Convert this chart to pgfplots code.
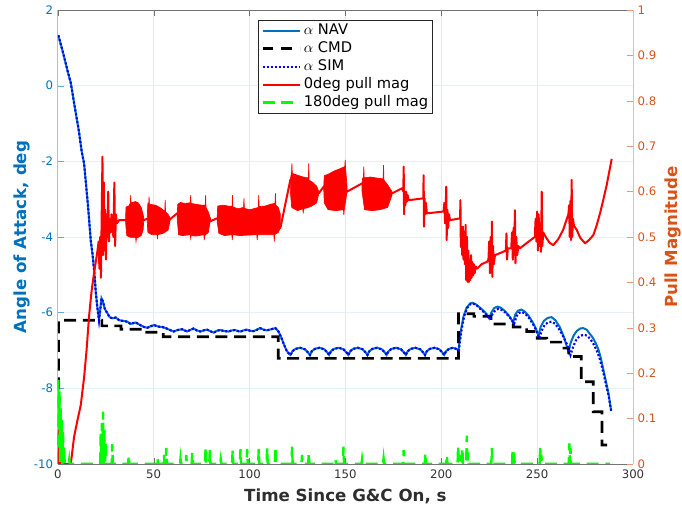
\documentclass[border=0pt]{standalone}
\usepackage{fontspec}
\setmainfont{DejaVu Sans}
\usepackage{pgfplots}
\pgfplotsset{compat=1.18}
\definecolor{mblue}{HTML}{0072BD}
\definecolor{morange}{HTML}{D95319}
\definecolor{mgreen}{rgb}{0,1,0}

\begin{document}
\begin{tikzpicture}
\useasboundingbox (-43.35pt,-32.25pt) rectangle (468.25pt,348pt);
% ---------------- left axis: angle of attack ----------------
\begin{axis}[
  at={(0,0)}, anchor=south west,
  scale only axis, width=431.5pt, height=340.5pt,
  xmin=0, xmax=300, ymin=-10, ymax=2,
  axis x line*=box, axis y line*=left,
  xtick={0,50,100,150,200,250,300},
  xticklabels={0,50,100,150,200,250,300},
  ytick={-10,-8,-6,-4,-2,0,2},
  yticklabels={-10,-8,-6,-4,-2,0,2},
  tick align=inside, major tick length=4.3pt,
  x axis line style={draw=black!55, line width=0.5pt},
  y axis line style={draw=mblue!40, line width=0.5pt},
  xtick style={black!55}, ytick style={mblue!60},
  x tick label style={font=\fontsize{8.8}{10}\selectfont, text=black!80, yshift=-0.8pt},
  y tick label style={font=\fontsize{8.8}{10}\selectfont, text=mblue},
  grid=major,
  x grid style={black!9, line width=0.5pt},
  y grid style={mblue!10, line width=0.5pt},
  every axis x label/.style={at={(axis description cs:0.5,-0.083)}, anchor=base},
  every axis y label/.style={at={(axis description cs:-0.0536,0.5)}, rotate=90, anchor=base},
  xlabel={\fontsize{12.5}{14}\selectfont\bfseries Time Since G\&C On, s},
  ylabel={\fontsize{12.5}{14}\selectfont\bfseries Angle of Attack, deg},
  ylabel style={text=mblue},
  xlabel style={text=black!82},
]
% alpha NAV
\addplot[mblue, line width=1.5pt] coordinates {
(0.3,1.33) (2.6,0.9) (5.2,0.37) (6.8,0.07) (8.8,-0.55) (11,-1.2) (12.5,-1.75) (13.7,-2.05)
(15.8,-3.2) (17.2,-4.1) (18.1,-4.45) (19,-4.9) (19.8,-5.45) (20.6,-5.85) (21.5,-6.2)
(22.2,-5.9) (22.8,-5.62) (23.5,-5.7) (24.5,-5.9) (25.9,-6.02) (27,-6.12) (28.5,-6.15)
(30.2,-6.13) (32,-6.2) (34,-6.22) (36.3,-6.24) (38,-6.3) (40.6,-6.26) (43,-6.33) (45,-6.38)
(46.7,-6.4) (48.5,-6.36) (50.2,-6.33) (52.5,-6.37) (54.5,-6.38) (56.3,-6.41) (58.5,-6.46)
(60.4,-6.5) (62.5,-6.46) (64.8,-6.44) (67.4,-6.5) (69,-6.46) (70.8,-6.42) (72.5,-6.47)
(74.3,-6.5) (76,-6.47) (77.8,-6.45) (79.5,-6.49) (81.3,-6.53) (83,-6.48) (84.7,-6.46)
(87,-6.49) (89.1,-6.5) (90.8,-6.47) (92.5,-6.46) (94,-6.49) (95.2,-6.5) (97,-6.47)
(98.6,-6.45) (100.3,-6.48) (102,-6.49) (104,-6.45) (105.5,-6.41) (107.3,-6.45) (109,-6.47)
(111.3,-6.44) (113.5,-6.41) (115.1,-6.5) (116.5,-6.65) (118,-6.85) (119.3,-7.0) (120.3,-7.07)
(121.4,-7.12) (122.4,-7.02) (123.9,-6.96) (126.4,-6.93) (128.9,-6.97) (130.4,-7.05)
(131.5,-7.12) (132.5,-7.02) (134,-6.96) (136.5,-6.93) (139,-6.97) (140.5,-7.05)
(141.5,-7.12) (142.5,-7.02) (144,-6.96) (146.5,-6.93) (149,-6.97) (150.5,-7.05)
(151.5,-7.12) (152.5,-7.02) (154,-6.96) (156.5,-6.93) (159,-6.97) (160.5,-7.05)
(161.5,-7.12) (162.5,-7.02) (164,-6.96) (166.5,-6.93) (169,-6.97) (170.5,-7.05)
(171.5,-7.12) (172.5,-7.02) (174,-6.96) (176.5,-6.93) (179,-6.97) (180.5,-7.05)
(181.5,-7.12) (182.5,-7.02) (184,-6.96) (186.5,-6.93) (189,-6.97) (190.5,-7.05)
(191.5,-7.12) (192.5,-7.02) (194,-6.96) (196.5,-6.93) (199,-6.97) (200.5,-7.05)
(201.5,-7.12) (202.5,-7.02) (204,-6.96) (206,-6.93) (207.8,-6.96) (209,-7.0)
(209.5,-6.75) (210.3,-6.45) (211.6,-6.1) (213.2,-5.87) (215,-5.76) (216.2,-5.74) (218,-5.78)
(220,-5.86) (222,-5.95) (224,-6.06) (225,-6.15) (226.2,-5.99) (227.6,-5.88) (229.3,-5.84)
(231,-5.87) (233,-5.95) (235.3,-6.08) (237.5,-6.26) (238.6,-6.05) (240,-5.95) (241.8,-5.92)
(243.5,-5.97) (245.5,-6.08) (247.5,-6.24) (249.3,-6.42) (250.7,-6.62) (251.8,-6.38)
(253.5,-6.22) (255.5,-6.14) (257.5,-6.12) (259.5,-6.2) (261.8,-6.38) (264,-6.65) (266.3,-7.03)
(267.6,-6.78) (269.2,-6.59) (270.8,-6.48) (272.5,-6.42) (274,-6.41) (275.8,-6.45) (277.3,-6.55)
(279,-6.66) (280.5,-6.8) (282,-6.98) (283.3,-7.22) (284.5,-7.5) (285.8,-7.8) (287.2,-8.13)
(288.6,-8.6)
};
% alpha CMD
\addplot[black, line width=2pt, dash pattern=on 9pt off 5pt] coordinates {
(0.3,-10) (0.4,-6.2) (23,-6.2) (23,-6.35) (33,-6.35) (33,-6.44) (43,-6.44) (43,-6.52)
(55,-6.52) (55,-6.64) (115,-6.64) (115,-7.21) (209,-7.21) (209,-6.03) (217,-6.03) (217,-6.1)
(226,-6.1) (226,-6.3) (237.5,-6.3) (237.5,-6.38) (244.5,-6.38) (244.5,-6.5) (250,-6.5)
(250,-6.68) (255,-6.68) (255,-6.78) (264,-6.78) (264,-6.94) (266.5,-6.94) (266.5,-7.16)
(273,-7.16) (273,-7.83) (279.3,-7.83) (279.3,-8.62) (283.8,-8.62) (283.8,-9.5) (286.5,-9.5)
};
% alpha SIM
\addplot[blue, line width=1.6pt, dash pattern=on 1.5pt off 1.5pt] coordinates {
(0.3,1.33) (2.6,0.9) (5.2,0.37) (6.8,0.07) (8.8,-0.55) (11,-1.2) (12.5,-1.75) (13.7,-2.05)
(15.8,-3.2) (17.2,-4.1) (18.1,-4.45) (19,-4.9) (19.8,-5.45) (20.6,-5.85) (21.5,-6.2)
(22.2,-5.9) (22.8,-5.62) (23.5,-5.7) (24.5,-5.9) (25.9,-6.02) (27,-6.12) (28.5,-6.15)
(30.2,-6.13) (32,-6.2) (34,-6.22) (36.3,-6.24) (38,-6.3) (40.6,-6.26) (43,-6.33) (45,-6.38)
(46.7,-6.4) (48.5,-6.36) (50.2,-6.33) (52.5,-6.37) (54.5,-6.38) (56.3,-6.41) (58.5,-6.46)
(60.4,-6.5) (62.5,-6.46) (64.8,-6.44) (67.4,-6.5) (69,-6.46) (70.8,-6.42) (72.5,-6.47)
(74.3,-6.5) (76,-6.47) (77.8,-6.45) (79.5,-6.49) (81.3,-6.53) (83,-6.48) (84.7,-6.46)
(87,-6.49) (89.1,-6.5) (90.8,-6.47) (92.5,-6.46) (94,-6.49) (95.2,-6.5) (97,-6.47)
(98.6,-6.45) (100.3,-6.48) (102,-6.49) (104,-6.45) (105.5,-6.41) (107.3,-6.45) (109,-6.47)
(111.3,-6.44) (113.5,-6.41) (115.1,-6.5) (116.5,-6.65) (118,-6.85) (119.3,-7.0) (120.3,-7.07)
(121.4,-7.12) (122.4,-7.02) (123.9,-6.96) (126.4,-6.93) (128.9,-6.97) (130.4,-7.05)
(131.5,-7.12) (132.5,-7.02) (134,-6.96) (136.5,-6.93) (139,-6.97) (140.5,-7.05)
(141.5,-7.12) (142.5,-7.02) (144,-6.96) (146.5,-6.93) (149,-6.97) (150.5,-7.05)
(151.5,-7.12) (152.5,-7.02) (154,-6.96) (156.5,-6.93) (159,-6.97) (160.5,-7.05)
(161.5,-7.12) (162.5,-7.02) (164,-6.96) (166.5,-6.93) (169,-6.97) (170.5,-7.05)
(171.5,-7.12) (172.5,-7.02) (174,-6.96) (176.5,-6.93) (179,-6.97) (180.5,-7.05)
(181.5,-7.12) (182.5,-7.02) (184,-6.96) (186.5,-6.93) (189,-6.97) (190.5,-7.05)
(191.5,-7.12) (192.5,-7.02) (194,-6.96) (196.5,-6.93) (199,-6.97) (200.5,-7.05)
(201.5,-7.12) (202.5,-7.02) (204,-6.96) (206,-6.93) (207.8,-6.96) (209.2,-7.0)
(209.8,-6.75) (210.6,-6.45) (211.9,-6.1) (213.5,-5.88) (215.3,-5.77) (216.5,-5.76) (218.3,-5.8)
(220.3,-5.9) (222.3,-5.99) (224.3,-6.1) (225.5,-6.18) (226.8,-6.03) (228.3,-5.93) (229.8,-5.9)
(231.5,-5.93) (233.5,-6.0) (236,-6.14) (238,-6.3) (239.2,-6.1) (240.5,-6.01) (242,-5.98)
(244,-6.04) (246,-6.16) (248,-6.32) (249.8,-6.5) (251.2,-6.68) (252.3,-6.48) (254,-6.32)
(256,-6.25) (257.6,-6.24) (259.5,-6.3) (262,-6.48) (264.5,-6.72) (266.3,-6.93) (267.4,-7.12)
(268.8,-6.9) (270.3,-6.73) (271.8,-6.64) (273.3,-6.6) (275,-6.59) (276.5,-6.63) (278,-6.72)
(279.5,-6.84) (281,-6.99) (282.5,-7.2) (283.7,-7.42) (284.8,-7.65) (286,-7.92) (287.3,-8.2)
(288.6,-8.6)
};
\end{axis}
% ---------------- right axis: pull magnitude ----------------
\begin{axis}[
  at={(0,0)}, anchor=south west,
  scale only axis, width=431.5pt, height=340.5pt,
  xmin=0, xmax=300, ymin=0, ymax=1,
  axis x line=none, axis y line*=right,
  ytick={0,0.1,0.2,0.3,0.4,0.5,0.6,0.7,0.8,0.9,1},
  yticklabels={0,0.1,0.2,0.3,0.4,0.5,0.6,0.7,0.8,0.9,1},
  tick align=inside, major tick length=4.3pt,
  y axis line style={draw=morange!40, line width=0.5pt},
  ytick style={morange!60},
  y tick label style={font=\fontsize{8.8}{10}\selectfont, text=morange},
  every axis y label/.style={at={(axis description cs:1.0765,0.5)}, rotate=90, anchor=base},
  ylabel={\fontsize{12.5}{14}\selectfont\bfseries Pull Magnitude},
  ylabel style={text=morange},
  legend style={at={(0.5,0.978)}, anchor=north, draw=black!85, line width=0.4pt,
    fill=white, font=\fontsize{11}{13}\selectfont, inner xsep=2pt, inner ysep=2pt,
    row sep=2pt, column sep=1pt,
    nodes={inner sep=1pt, text height=7.5pt, text depth=2pt}},
  legend cell align=left,
  legend image code/.code={\draw[#1] (0pt,0pt) -- (28pt,0pt);},
]
\addlegendimage{mblue, line width=1.5pt}
\addlegendentry{$\alpha$ NAV}
\addlegendimage{black, line width=2pt, dash pattern=on 8pt off 6pt}
\addlegendentry{$\alpha$ CMD}
\addlegendimage{blue, line width=1.6pt, dash pattern=on 1.5pt off 1.5pt}
\addlegendentry{$\alpha$ SIM}
% 0deg pull mag: oscillation bursts (dense, drawn as their envelopes)
\addplot[red, fill=red, line width=0.5pt, forget plot] coordinates {
(35.4,0.545) (35.6,0.566) (37.0,0.568) (37.9,0.575) (38.0,0.592) (38.2,0.575) (40.5,0.578)
(42,0.575) (43.5,0.565) (44.5,0.55) (44.9,0.54) (44.5,0.515) (43.5,0.503) (41,0.497)
(40.8,0.49) (40.6,0.499) (38,0.499) (36,0.503) (35.4,0.53)} -- cycle;
\addplot[red, fill=red, line width=0.5pt, forget plot] coordinates {
(46.7,0.55) (47.0,0.575) (47.5,0.575) (47.6,0.589) (47.8,0.572) (51,0.57) (54,0.563)
(55.8,0.556) (56,0.581) (56.2,0.555) (57.5,0.55) (58.8,0.54) (57.5,0.515) (55,0.508)
(52.2,0.505) (52,0.495) (51.8,0.505) (49,0.505) (47,0.51) (46.7,0.53)} -- cycle;
\addplot[red, fill=red, line width=0.5pt, forget plot] coordinates {
(62.3,0.552) (62.6,0.572) (64,0.576) (66,0.574) (69.1,0.575) (69.3,0.592) (69.5,0.574)
(72,0.572) (75,0.57) (76.9,0.57) (77.1,0.592) (77.3,0.565) (78.5,0.555) (79.7,0.54)
(78.5,0.51) (76.6,0.503) (76.4,0.493) (76.2,0.505) (72,0.502) (69.5,0.503) (69.3,0.497)
(69.1,0.505) (65,0.503) (63,0.505) (62.3,0.54)} -- cycle;
\addplot[red, fill=red, line width=0.5pt, forget plot] coordinates {
(83.1,0.541) (83.4,0.568) (86,0.57) (89,0.568) (90.9,0.568) (91.1,0.592) (91.3,0.566)
(94,0.562) (96.9,0.565) (97.1,0.585) (97.3,0.563) (100,0.56) (102,0.562) (104.6,0.565)
(104.8,0.592) (105,0.567) (108,0.568) (111,0.572) (113.3,0.574) (113.5,0.596) (113.7,0.57)
(115,0.565) (116.1,0.55) (116.1,0.52) (115,0.51) (113.1,0.505) (112.9,0.49) (112.7,0.505)
(108,0.505) (104.2,0.505) (104,0.493) (103.8,0.505) (99,0.504) (95,0.503) (91.2,0.505)
(91,0.493) (90.8,0.505) (87,0.503) (84,0.508) (83.1,0.535)} -- cycle;
\addplot[red, fill=red, line width=0.5pt, forget plot] coordinates {
(121.3,0.626) (121.8,0.64) (121.9,0.64) (122.1,0.662) (122.3,0.64) (125,0.636) (128,0.632)
(130.7,0.63) (130.9,0.662) (131.1,0.625) (133,0.62) (135,0.612) (136.1,0.6) (136.1,0.595)
(135,0.575) (132,0.567) (128.2,0.562) (128,0.552) (127.8,0.562) (125,0.558) (122,0.565)
(121.3,0.6)} -- cycle;
\addplot[red, fill=red, line width=0.5pt, forget plot] coordinates {
(138.7,0.611) (139,0.635) (141,0.638) (144,0.645) (147,0.65) (149.7,0.655) (149.9,0.67)
(150.1,0.65) (150.9,0.61) (150.9,0.6) (149.4,0.56) (149.2,0.548) (149,0.56) (145,0.558)
(141,0.56) (139,0.575) (138.7,0.605)} -- cycle;
\addplot[red, fill=red, line width=0.5pt, forget plot] coordinates {
(158.7,0.618) (159,0.63) (159.4,0.63) (159.6,0.655) (159.8,0.63) (163,0.632) (166,0.63)
(169.7,0.628) (169.9,0.658) (170.1,0.625) (172,0.615) (174.3,0.6) (174.3,0.592) (172,0.565)
(168,0.56) (164,0.558) (160,0.56) (158.7,0.6)} -- cycle;
% 0deg pull mag: main trace
\addplot[red, line width=1.5pt, line join=round] coordinates {
(0,0.07) (0.3,0) (0.6,0.075) (0.9,0.01) (1.2,0.06) (1.5,0) (1.8,0.05) (2.1,0) (2.4,0.04)
(2.7,0) (3.0,0.03) (3.3,0) (6.8,0) (8.5,0.06) (10.2,0.095) (12,0.13) (13.7,0.19) (15,0.25)
(16.3,0.325) (17.6,0.38) (18.9,0.42) (20.0,0.45) (20.7,0.47) (21.3,0.49) (21.7,0.43)
(22.1,0.5) (22.5,0.41) (22.9,0.55) (23.3,0.677) (23.6,0.46) (24.0,0.62) (24.3,0.47)
(24.7,0.56) (25.1,0.45) (25.5,0.55) (25.9,0.5) (26.3,0.6) (26.7,0.49) (27.1,0.54)
(27.6,0.51) (28.0,0.55) (28.5,0.52) (29.0,0.5) (29.5,0.62) (29.9,0.48) (30.3,0.55)
(30.8,0.53) (32,0.537) (35.4,0.537) (44.9,0.537) (46.7,0.54) (58.8,0.54) (62.3,0.552)
(79.7,0.535) (83.1,0.541) (116.1,0.52) (121.3,0.626) (136.1,0.596) (138.7,0.611)
(150.9,0.6) (158.7,0.618) (174.3,0.596) (179.5,0.607) (180.2,0.6) (180.4,0.655)
(180.6,0.55) (180.9,0.6) (181.3,0.57) (181.7,0.6) (182.1,0.578) (182.5,0.592) (183,0.581)
(190.6,0.585) (190.8,0.636) (191.0,0.523) (191.3,0.585) (191.7,0.55) (192.0,0.575)
(192.5,0.552) (201.2,0.556) (201.6,0.575) (202,0.53) (202.4,0.58) (202.6,0.611)
(202.8,0.493) (203.2,0.56) (203.6,0.52) (204,0.55) (204.6,0.537) (209.8,0.541)
(210.0,0.581) (210.2,0.478) (210.6,0.52) (210.9,0.46) (211.3,0.523) (211.6,0.45)
(212.0,0.51) (212.3,0.44) (212.7,0.527) (213.0,0.405) (213.4,0.50) (213.7,0.401)
(214.1,0.47) (214.4,0.401) (214.8,0.45) (215.1,0.405) (215.5,0.46) (215.8,0.41)
(216.2,0.445) (216.6,0.415) (217,0.44) (217.4,0.42) (218,0.435) (218.6,0.43) (221,0.44)
(223.8,0.445) (224.6,0.45) (225,0.49) (225.4,0.42) (225.8,0.5) (226.2,0.43) (226.4,0.534)
(226.6,0.412) (227,0.48) (227.4,0.44) (228,0.46) (231,0.465) (233.7,0.47) (234,0.508)
(234.3,0.45) (234.7,0.475) (236.5,0.475) (236.9,0.51) (237.3,0.45) (237.7,0.52)
(238.1,0.46) (238.4,0.559) (238.7,0.442) (239.1,0.5) (239.6,0.46) (240.2,0.48) (241,0.475)
(245,0.488) (248.8,0.5) (249.2,0.54) (249.6,0.49) (250,0.556) (250.4,0.47) (250.8,0.55)
(251.2,0.48) (251.6,0.53) (252,0.467) (252.4,0.600) (252.7,0.48) (253.2,0.51) (254.5,0.5)
(256.5,0.487) (258.4,0.482) (261,0.495) (263.6,0.516) (265.5,0.54) (266.3,0.55)
(266.7,0.57) (267,0.5) (267.4,0.58) (267.7,0.493) (268,0.626) (268.3,0.5) (268.7,0.54)
(269.2,0.525) (270.6,0.516) (272.5,0.498) (275,0.486) (277,0.493) (279.3,0.504)
(281,0.525) (282.8,0.552) (284.4,0.58) (286.3,0.615) (288.9,0.672)
};
\addlegendentry{0deg pull mag}
% 180deg pull mag
\addplot[mgreen, line width=1.8pt, dash pattern=on 9pt off 5pt] coordinates {
(0,0.1) (0.3,0.185) (0.6,0.03) (0.9,0.16) (1.2,0.0) (1.5,0.125) (1.8,0.01) (2.1,0.1)
(2.4,0.0) (2.7,0.07) (3.0,0.0) (3.3,0.04) (3.6,0)
(5.7,0) (6,0.01) (6.3,0)
(22.1,0) (22.4,0.066) (22.7,0) (23.0,0.09) (23.3,0.0) (23.6,0.115) (23.9,0) (24.3,0.075)
(24.6,0) (25.0,0.045) (25.3,0)
(28.1,0) (28.4,0.044) (28.7,0)
(36.7,0) (37,0.018) (37.3,0)
(51.7,0) (52,0.012) (52.3,0)
(55.1,0) (55.4,0.02) (55.7,0)
(56.3,0) (56.6,0.035) (56.9,0)
(63.7,0) (64,0.012) (64.3,0)
(66.7,0) (67,0.02) (67.3,0)
(69.8,0) (70.1,0.024) (70.4,0)
(76.8,0) (77.1,0.038) (77.4,0)
(79,0) (79.3,0.03) (79.6,0)
(84.7,0) (85,0.01) (85.3,0)
(90.9,0) (91.2,0.03) (91.5,0)
(95,0) (95.3,0.033) (95.6,0)
(98.5,0) (98.8,0.033) (99.1,0)
(104.5,0) (104.8,0.033) (105.1,0)
(108.9,0) (109.2,0.035) (109.5,0)
(113.2,0) (113.5,0.038) (113.8,0)
(121.9,0) (122.2,0.038) (122.5,0)
(127.1,0) (127.4,0.02) (127.7,0)
(130.6,0) (130.9,0.024) (131.2,0)
(144.5,0) (144.8,0.01) (145.1,0)
(148.7,0) (149,0.038) (149.3,0)
(158.4,0) (158.7,0.01) (159,0)
(169.6,0) (169.9,0.012) (170.2,0)
(180.1,0) (180.4,0.031) (180.7,0)
(191.4,0) (191.7,0.024) (192,0)
(202.6,0) (202.9,0.02) (203.2,0)
(208.5,0) (208.8,0.04) (209.1,0) (209.7,0.02) (210,0)
(210.7,0) (211,0.035) (211.3,0)
(213,0) (213.3,0.062) (213.6,0) (214,0.025) (214.3,0)
(226.1,0) (226.4,0.035) (226.7,0)
(236.9,0) (237.2,0.03) (237.6,0) (238,0.025) (238.3,0)
(251.3,0) (251.6,0.038) (251.9,0) (252.2,0.02) (252.5,0)
(266.5,0) (266.8,0.045) (267.1,0) (267.4,0.035) (267.7,0)
(288,0)
};
\addlegendentry{180deg pull mag}
\end{axis}
\end{tikzpicture}
\end{document}
